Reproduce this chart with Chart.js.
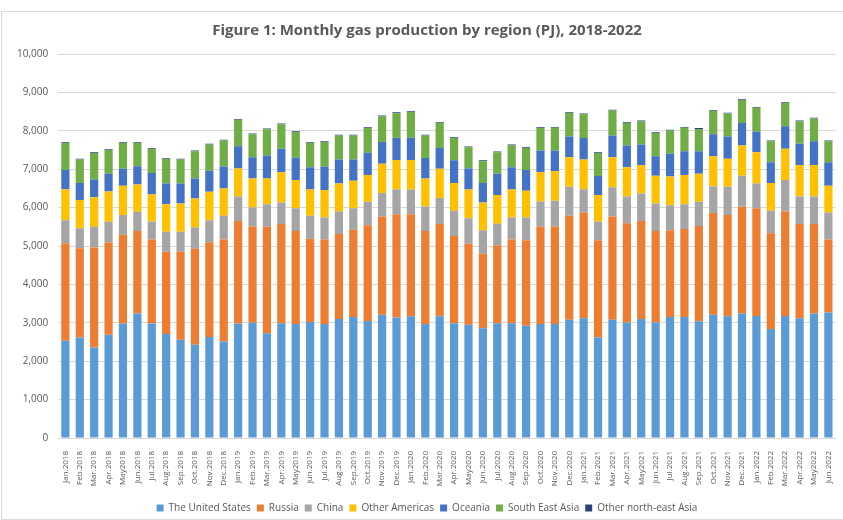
<!DOCTYPE html>
<html>
<head>
<meta charset="utf-8">
<script src="https://cdn.jsdelivr.net/npm/chart.js@4"></script>
<style>
  html, body { margin: 0; padding: 0; background: #fff; }
  #wrap { position: relative; width: 841px; height: 507px; margin-top: 11px; margin-left: 1px; border: 1px solid #d9d9d9; }
</style>
</head>
<body>
<div id="wrap"><canvas id="chart"></canvas></div>
<script>
// monthly gas production by region (PJ)
const months = [
  "Jan.2018","Feb.2018","Mar.2018","Apr.2018","May2018","Jun.2018","Jul.2018","Aug.2018","Sep.2018","Oct.2018","Nov.2018","Dec.2018",
  "Jan.2019","Feb.2019","Mar.2019","Apr.2019","May2019","Jun.2019","Jul.2019","Aug.2019","Sep.2019","Oct.2019","Nov.2019","Dec.2019",
  "Jan.2020","Feb.2020","Mar.2020","Apr.2020","May2020","Jun.2020","Jul.2020","Aug.2020","Sep.2020","Oct.2020","Nov.2020","Dec.2020",
  "Jan.2021","Feb.2021","Mar.2021","Apr.2021","May2021","Jun.2021","Jul.2021","Aug.2021","Sep.2021","Oct.2021","Nov.2021","Dec.2021",
  "Jan.2022","Feb.2022","Mar.2022","Apr.2022","May2022","Jun.2022"
];

const unitedStates = [2530,2620,2360,2690,2980,3240,2980,2710,2560,2430,2630,2510,
  2980,3010,2730,2990,2970,3020,2970,3100,3150,3050,3210,3140,
  3170,2970,3170,2990,2950,2860,2990,2990,2920,2970,2970,3080,
  3120,2620,3080,3010,3100,3010,3150,3150,3040,3210,3170,3240,
  3180,2840,3180,3120,3240,3270];

const russia = [2540,2320,2600,2400,2310,2150,2190,2140,2290,2500,2470,2660,
  2670,2500,2770,2580,2420,2170,2200,2210,2270,2490,2560,2690,
  2660,2420,2400,2270,2110,1940,2030,2180,2230,2530,2540,2710,
  2750,2530,2690,2580,2550,2380,2260,2290,2480,2650,2640,2780,
  2800,2490,2720,2450,2330,1900];

const china = [600,520,540,540,520,500,470,520,520,550,570,620,
  640,490,590,560,590,600,570,590,560,610,610,640,
  640,640,680,660,660,610,560,570,590,660,670,750,
  610,480,760,700,720,720,650,650,630,690,730,810,
  650,590,820,720,720,700];

const otherAmericas = [810,740,770,790,760,710,710,720,740,760,740,710,
  730,760,670,790,740,680,720,730,720,700,760,770,
  770,730,760,720,750,720,750,730,700,760,770,770,
  770,700,780,760,740,720,750,760,730,790,730,790,
  810,720,810,820,820,700];

const oceania = [500,440,460,460,440,480,550,540,520,520,550,570,
  580,550,600,610,580,580,610,620,550,580,570,580,
  580,530,540,590,550,510,550,580,540,570,540,540,
  560,490,570,570,530,510,590,620,590,570,580,580,
  540,540,590,550,620,610];

const southEastAsia = [700,610,690,620,670,610,630,640,620,710,680,680,
  690,600,680,640,670,640,640,630,630,640,670,640,
  670,590,660,580,550,570,560,570,570,580,590,620,
  620,600,650,580,610,610,610,610,580,610,600,600,
  620,550,610,590,590,550];

const otherNorthEastAsia = [20,20,20,20,20,20,20,20,20,20,20,20,
  20,20,20,20,20,20,20,20,20,20,20,20,
  20,20,20,20,20,20,20,20,20,20,20,20,
  20,20,20,20,20,20,20,20,20,20,20,20,
  20,20,20,20,20,20];

const yTicks = [0,1000,2000,3000,4000,5000,6000,7000,8000,9000,10000];

const seriesNames = ["The United States","Russia","China","Other Americas","Oceania","South East Asia","Other north-east Asia"];
const seriesValues = [unitedStates, russia, china, otherAmericas, oceania, southEastAsia, otherNorthEastAsia];
const seriesColors = ["#5b9bd5","#ed7d31","#a5a5a5","#ffc000","#4472c4","#70ad47","#264478"];

const datasets = seriesNames.map((name, i) => ({
  label: name,
  data: seriesValues[i],
  backgroundColor: seriesColors[i],
  borderWidth: 0,
  barPercentage: 0.57,
  categoryPercentage: 1.0,
}));

new Chart(document.getElementById("chart"), {
  type: "bar",
  data: { labels: months, datasets: datasets },
  options: {
    responsive: true,
    maintainAspectRatio: false,
    animation: false,
    layout: { padding: { left: 5, right: -4, top: 4, bottom: -4 } },
    plugins: {
      title: {
        display: true,
        text: "Figure 1: Monthly gas production by region (PJ), 2018-2022",
        color: "#595959",
        font: { family: "Open Sans", size: 15, weight: "bold" },
        padding: { top: 6, bottom: 14 },
      },
      legend: {
        position: "bottom",
        labels: {
          color: "#595959",
          font: { family: "Open Sans", size: 10 },
          boxWidth: 7,
          boxHeight: 7,
          padding: 6,
        },
      },
      tooltip: { enabled: false },
    },
    scales: {
      x: {
        stacked: true,
        grid: { display: false },
        border: { color: "#d9d9d9" },
        ticks: {
          color: "#595959",
          font: { family: "Open Sans", size: 8 },
          padding: 5,
          minRotation: 90,
          maxRotation: 90,
          autoSkip: false,
        },
        afterFit: (scale) => { scale.height = 59; },
      },
      y: {
        stacked: true,
        min: 0,
        max: 10000,
        afterBuildTicks: (axis) => { axis.ticks = yTicks.map((v) => ({ value: v })); },
        grid: { color: "#d9d9d9", drawTicks: false },
        border: { display: false },
        ticks: {
          color: "#595959",
          font: { family: "Open Sans", size: 10 },
          padding: 10,
          callback: (v) => v.toLocaleString("en-US"),
        },
      },
    },
  },
});
</script>
</body>
</html>
